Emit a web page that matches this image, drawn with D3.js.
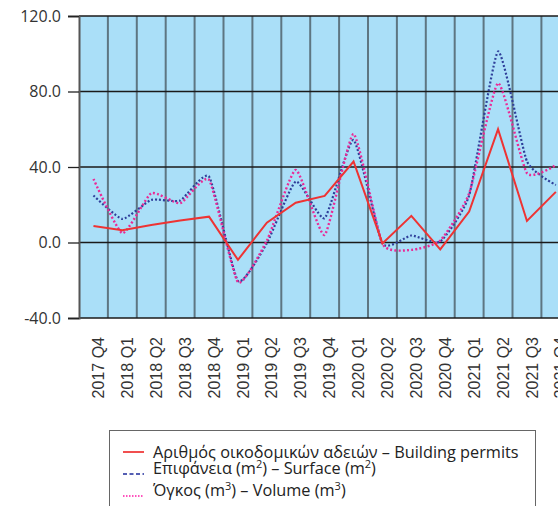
<!DOCTYPE html>
<html>
<head>
<meta charset="utf-8">
<script src="https://cdn.jsdelivr.net/npm/d3@7"></script>
<style>
  body { margin: 0; background: #fff; }
  svg { display: block; }
</style>
</head>
<body>
<div id="chart"></div>
<script>
// data
var categories = ["2017 Q4", "2018 Q1", "2018 Q2", "2018 Q3", "2018 Q4",
                  "2019 Q1", "2019 Q2", "2019 Q3", "2019 Q4",
                  "2020 Q1", "2020 Q2", "2020 Q3", "2020 Q4",
                  "2021 Q1", "2021 Q2", "2021 Q3", "2021 Q4"];
var permits = [8.8, 6.5, 9.3, 11.6, 13.7, -9.2, 10.5, 21.1, 24.7, 42.9, -0.5, 14.1, -3.6, 16.4, 60.0, 11.4, 26.8];
var surface = [24.9, 12.5, 22.6, 22.2, 34.9, -20.3, -0.4, 32.3, 12.9, 54.3, -0.5, 3.7, 0.5, 25.0, 101.2, 43.0, 30.5];
var volume  = [33.7, 4.9, 26.1, 20.8, 33.2, -21.0, 1.0, 38.5, 4.0, 57.5, -0.7, -3.9, 1.0, 26.0, 84.4, 36.7, 41.0];
var yTicks = [-40, 0, 40, 80, 120];

var W = 558, H = 506;
var plotLeft = 79, plotTop = 16, plotBottom = 318, band = 28.9;

var x = d3.scaleBand()
          .domain(categories)
          .range([plotLeft, plotLeft + band * categories.length])
          .padding(0);
var y = d3.scaleLinear()
          .domain([-40, 120])
          .range([plotBottom, plotTop]);

var svg = d3.select("#chart").append("svg")
    .attr("width", W)
    .attr("height", H);

// plot background
svg.append("rect")
    .attr("x", plotLeft)
    .attr("y", plotTop)
    .attr("width", x.range()[1] - plotLeft)
    .attr("height", plotBottom - plotTop)
    .attr("fill", "#aadff8");

// vertical grid lines, one per category boundary
svg.append("g").selectAll("line")
    .data(categories.slice(1))
  .enter().append("line")
    .attr("x1", function(d) { return x(d); })
    .attr("x2", function(d) { return x(d); })
    .attr("y1", plotTop)
    .attr("y2", plotBottom)
    .attr("stroke", "#44535b")
    .attr("stroke-opacity", 0.75)
    .attr("stroke-width", 2);

// horizontal grid lines
svg.append("g").selectAll("line")
    .data(yTicks)
  .enter().append("line")
    .attr("x1", plotLeft)
    .attr("x2", W)
    .attr("y1", function(d) { return y(d); })
    .attr("y2", function(d) { return y(d); })
    .attr("stroke", "#1a1a1a")
    .attr("stroke-width", 1.3);

// y axis
var yAxis = svg.append("g")
    .attr("transform", "translate(" + plotLeft + ",0)")
    .call(d3.axisLeft(y)
      .tickValues(yTicks)
      .tickSize(11)
      .tickPadding(7)
      .tickFormat(function(d) { return d.toFixed(1); }));
yAxis.select(".domain")
    .attr("stroke", "#555")
    .attr("stroke-width", 2);
yAxis.selectAll(".tick line").attr("stroke", "#222").attr("stroke-width", 1.3);
yAxis.selectAll("text")
    .attr("fill", "#333")
    .style("font-family", "'Open Sans', sans-serif")
    .style("font-size", "16px");

// x axis labels, rotated
var xAxis = svg.append("g")
    .attr("transform", "translate(0," + plotBottom + ")")
    .call(d3.axisBottom(x).tickSize(0));
xAxis.select(".domain").remove();
xAxis.selectAll("text")
    .attr("transform", "rotate(-90)")
    .attr("text-anchor", "end")
    .attr("x", -19)
    .attr("y", 5)
    .attr("dy", "0.35em")
    .attr("fill", "#333")
    .style("font-family", "'Liberation Sans', Arial, sans-serif")
    .style("font-size", "16px");

// lines
var cx = function(d, i) { return x(categories[i]) + x.bandwidth() / 2; };
var straight = d3.line().x(cx).y(function(d) { return y(d); });
var smooth = d3.line().x(cx).y(function(d) { return y(d); })
    .curve(d3.curveCardinal.tension(0.5));

svg.append("path")
    .datum(surface)
    .attr("d", smooth)
    .attr("fill", "none")
    .attr("stroke", "#2f3f9a")
    .attr("stroke-width", 2.2)
    .attr("stroke-dasharray", "2,2");

svg.append("path")
    .datum(volume)
    .attr("d", smooth)
    .attr("fill", "none")
    .attr("stroke", "#ea2a96")
    .attr("stroke-width", 2.4)
    .attr("stroke-dasharray", "2,2.2");

svg.append("path")
    .datum(permits)
    .attr("d", straight)
    .attr("fill", "none")
    .attr("stroke", "#ee3333")
    .attr("stroke-width", 2);

// legend
var legend = svg.append("g");
legend.append("rect")
    .attr("x", 109.5)
    .attr("y", 430.5)
    .attr("width", 426)
    .attr("height", 100)
    .attr("fill", "#fff")
    .attr("stroke", "#666")
    .attr("stroke-width", 1);

var items = [
  {color: "#ee2222", dash: null, y: 452},
  {color: "#1c2a9a", dash: "4,2.5", y: 474},
  {color: "#ff1aa8", dash: "1.5,1.5", y: 496}
];
items.forEach(function(it) {
  legend.append("line")
      .attr("x1", 123).attr("x2", 144)
      .attr("y1", it.y).attr("y2", it.y)
      .attr("stroke", it.color)
      .attr("stroke-width", 1.6)
      .attr("stroke-dasharray", it.dash);
});

var lt = legend.selectAll("text.lbl")
    .data(items)
  .enter().append("text")
    .attr("class", "lbl")
    .attr("x", 153)
    .attr("y", function(d) { return d.y; })
    .attr("dy", "0.35em")
    .attr("fill", "#222")
    .style("font-family", "'Open Sans', sans-serif")
    .style("font-size", "16.3px");

d3.select(lt.nodes()[0]).text("Αριθμός οικοδομικών αδειών – Building permits");

function supLabel(node, parts) {
  var t = d3.select(node);
  parts.forEach(function(p) {
    if (p.sup) {
      t.append("tspan").attr("dy", -6).style("font-size", "11px").text(p.sup);
    } else {
      t.append("tspan").attr("dy", p.back ? 6 : 0).text(p.txt);
    }
  });
}
supLabel(lt.nodes()[1], [
  {txt: "Επιφάνεια (m"}, {sup: "2"}, {txt: ") – Surface (m", back: true}, {sup: "2"}, {txt: ")", back: true}
]);
supLabel(lt.nodes()[2], [
  {txt: "Όγκος (m"}, {sup: "3"}, {txt: ") – Volume (m", back: true}, {sup: "3"}, {txt: ")", back: true}
]);
</script>
</body>
</html>
